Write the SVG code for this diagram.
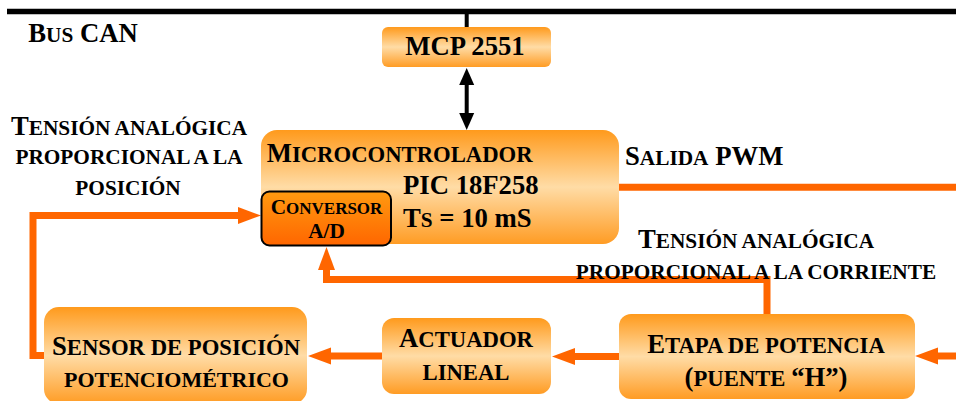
<svg xmlns="http://www.w3.org/2000/svg" width="956" height="401" viewBox="0 0 956 401">
<style>
text{font-family:"Liberation Serif","Times New Roman",serif;font-weight:bold;fill:#000;font-size:21.3px}
.bs{font-size:22.7px}
.b{font-size:26.7px}
.s17{font-size:17px}
.mid{text-anchor:middle}
.box{fill:url(#og)}
.conv{fill:url(#cg);stroke:#000;stroke-width:2}
.oline{fill:none;stroke:#FF6600;stroke-width:7;stroke-linejoin:miter;stroke-linecap:butt}
.kline{fill:none;stroke:#000;stroke-linecap:butt}
</style>
<defs>
<linearGradient id="og" x1="0" y1="0" x2="0" y2="1">
<stop offset="0" stop-color="#FF9A1C"/>
<stop offset="0.5" stop-color="#FFDCA6"/>
<stop offset="1" stop-color="#FF9C24"/>
</linearGradient>
<linearGradient id="cg" x1="0" y1="0" x2="0" y2="1">
<stop offset="0" stop-color="#FF9A10"/>
<stop offset="1" stop-color="#FF6600"/>
</linearGradient>
<marker id="oa" markerUnits="userSpaceOnUse" markerWidth="23" markerHeight="17" refX="0" refY="8.5" orient="auto" overflow="visible">
<path d="M0,0 L23,8.5 L0,17 Z" fill="#FF6600"/>
</marker>
<marker id="ka" markerUnits="userSpaceOnUse" markerWidth="17" markerHeight="15" refX="0" refY="7.5" orient="auto-start-reverse" overflow="visible">
<path d="M0,0 L17,7.5 L0,15 Z" fill="#000"/>
</marker>
</defs>

<g id="connectors">
<path class="kline" d="M7,11.5 H956" stroke-width="5.5"/>
<path class="kline" d="M466.7,13 V27" stroke-width="4"/>
<path class="kline" d="M466.7,85 V113" stroke-width="4" marker-start="url(#ka)" marker-end="url(#ka)"/>
<path class="oline" d="M44,355.5 H33 V215.5 H238" marker-end="url(#oa)"/>
<path class="oline" d="M767,314 V279.5 H326.5 V270" marker-end="url(#oa)"/>
<path class="oline" d="M619,187.3 H956"/>
<path class="oline" d="M956,356 H938" marker-end="url(#oa)"/>
<path class="oline" d="M619,356.5 H575" marker-end="url(#oa)"/>
<path class="oline" d="M382,356 H331" marker-end="url(#oa)"/>
</g>

<g id="bus-label">
<text x="28.3" y="41.5"><tspan class="b">B</tspan>US<tspan class="b"> CAN</tspan></text>
</g>

<g id="label-posicion">
<text class="mid" x="129" y="135"><tspan class="b">T</tspan>ENSIÓN ANALÓGICA</text>
<text class="mid" x="129" y="164">PROPORCIONAL A LA</text>
<text class="mid" x="128" y="195">POSICIÓN</text>
</g>

<g id="label-corriente">
<text class="mid" x="756" y="247.7"><tspan class="b">T</tspan>ENSIÓN ANALÓGICA</text>
<text class="mid" x="756" y="279.3">PROPORCIONAL A LA CORRIENTE</text>
</g>

<g id="label-pwm">
<text x="625" y="165"><tspan class="b">S</tspan>ALIDA<tspan class="b"> PWM</tspan></text>
</g>

<g id="mcp2551">
<rect class="box" x="382" y="27" width="169" height="40" rx="6"/>
<text class="b mid" x="465" y="55">MCP 2551</text>
</g>

<g id="microcontrolador">
<rect class="box" x="261" y="130" width="358" height="114" rx="16"/>
<text class="bs" x="266.7" y="161.7"><tspan class="b">M</tspan>ICROCONTROLADOR</text>
<text class="b" x="403" y="193.5">PIC 18F258</text>
<text x="403" y="226.5"><tspan class="b">T</tspan>S<tspan class="b"> = 10 mS</tspan></text>
</g>

<g id="conversor">
<rect class="conv" x="261.5" y="191.5" width="129.5" height="54" rx="8"/>
<text class="s17 mid" x="326.5" y="214.3"><tspan style="font-size:21.3px">C</tspan>ONVERSOR</text>
<text class="mid" x="326.5" y="238.3">A/D</text>
</g>

<g id="sensor">
<rect class="box" x="44" y="307" width="263" height="97" rx="15"/>
<text class="bs mid" x="176" y="355"><tspan class="b">S</tspan>ENSOR DE POSICIÓN</text>
<text class="mid" x="176.5" y="387.3" style="font-size:22px">POTENCIOMÉTRICO</text>
</g>

<g id="actuador">
<rect class="box" x="382" y="318" width="169" height="76" rx="12"/>
<text class="bs mid" x="466" y="346.7"><tspan class="b">A</tspan>CTUADOR</text>
<text class="bs mid" x="466" y="380">LINEAL</text>
</g>

<g id="etapa">
<rect class="box" x="619" y="314" width="296" height="85" rx="12"/>
<text class="bs mid" x="766" y="353.3"><tspan class="b">E</tspan>TAPA DE POTENCIA</text>
<text class="bs mid" x="766" y="385.7"><tspan class="b">(</tspan>PUENTE <tspan class="b">“H”)</tspan></text>
</g>
</svg>
